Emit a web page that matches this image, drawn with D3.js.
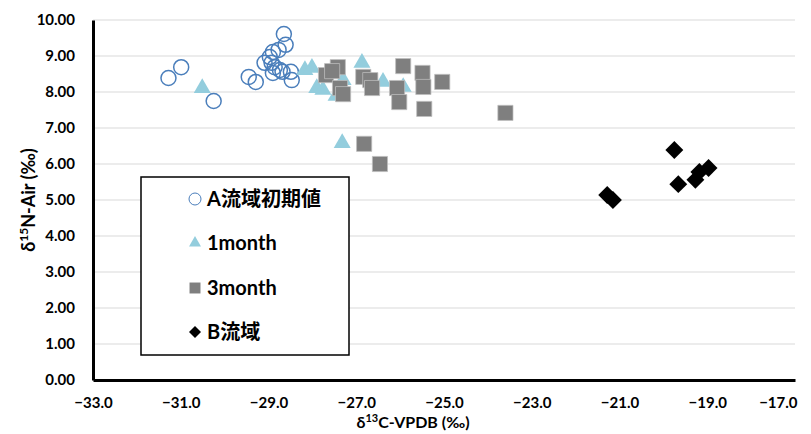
<!DOCTYPE html>
<html lang="ja">
<head>
  <meta charset="UTF-8">
  <title>δ13C vs δ15N</title>
  <script src="https://cdn.jsdelivr.net/npm/d3@7"></script>
  <style>
    body { margin: 0; background: #fff; }
    svg text { font-family: Lato, "Noto Sans CJK JP", sans-serif; font-weight: bold; fill: #000; }
  </style>
</head>
<body>
  <div id="chart"></div>
  <script>
    // series names
    const seriesNames = ["A流域初期値", "1month", "3month", "B流域"];

    // A流域初期値 (δ13C, δ15N)
    const seriesA = [
      [-31.28, 8.39], [-30.99, 8.69], [-30.25, 7.75], [-29.45, 8.42], [-29.29, 8.28],
      [-28.65, 9.61], [-28.61, 9.31], [-28.77, 9.17], [-28.90, 9.11], [-28.97, 8.97],
      [-29.09, 8.81], [-28.93, 8.81], [-28.86, 8.69], [-28.74, 8.61], [-28.90, 8.53],
      [-28.68, 8.56], [-28.49, 8.56], [-28.47, 8.33]
    ];

    // 1month
    const series1m = [
      [-30.51, 8.11], [-28.17, 8.61], [-28.01, 8.67], [-27.90, 8.11], [-27.76, 8.06],
      [-27.46, 7.89], [-27.30, 8.33], [-26.87, 8.81], [-26.39, 8.28], [-25.93, 8.14],
      [-27.32, 6.58]
    ];

    // 3month
    const series3m = [
      [-27.42, 8.69], [-27.69, 8.47], [-27.55, 8.58], [-27.37, 8.11], [-27.30, 7.94],
      [-26.84, 8.42], [-26.68, 8.33], [-26.64, 8.11], [-25.93, 8.72], [-26.07, 8.11],
      [-26.02, 7.72], [-25.49, 8.53], [-25.47, 8.14], [-25.45, 7.53], [-25.04, 8.28],
      [-23.60, 7.42], [-26.82, 6.56], [-26.46, 6.00]
    ];

    // B流域
    const seriesB = [
      [-21.28, 5.14], [-21.15, 5.00], [-19.75, 6.39], [-19.66, 5.44], [-19.27, 5.56],
      [-19.18, 5.78], [-18.97, 5.89]
    ];

    const xTicks = [-33, -31, -29, -27, -25, -23, -21, -19, -17];
    const yTicks = [0, 1, 2, 3, 4, 5, 6, 7, 8, 9, 10];

    const width = 811, height = 434;
    const margin = { top: 20, right: 16, bottom: 54, left: 93 };

    const svg = d3.select("#chart").append("svg")
      .attr("width", width)
      .attr("height", height);

    const x = d3.scaleLinear().domain([-33, -17]).range([margin.left, width - margin.right]);
    const y = d3.scaleLinear().domain([0, 10]).range([height - margin.bottom, margin.top]);

    // gridlines
    svg.append("g")
      .selectAll("line")
      .data(yTicks.slice(1))
      .join("line")
      .attr("x1", x(-33)).attr("x2", x(-17))
      .attr("y1", d => y(d)).attr("y2", d => y(d))
      .attr("stroke", "#d9d9d9")
      .attr("stroke-width", 1);

    // y axis
    const yAxis = svg.append("g")
      .attr("transform", `translate(${margin.left},0)`)
      .call(d3.axisLeft(y).tickValues(yTicks).tickFormat(d3.format(".2f")).tickSize(0).tickPadding(18));
    yAxis.select(".domain").attr("stroke", "#000").attr("stroke-width", 3);
    yAxis.selectAll("text").style("font-size", "15px");

    // x axis
    const xAxis = svg.append("g")
      .attr("transform", `translate(0,${y(0)})`)
      .call(d3.axisBottom(x).tickValues(xTicks).tickFormat(d3.format(".1f")).tickSize(0).tickPadding(17));
    xAxis.select(".domain").attr("stroke", "#000").attr("stroke-width", 3);
    xAxis.selectAll("text").style("font-size", "15px");
    // keep the last label inside the chart, like Excel does
    xAxis.selectAll(".tick").filter(d => d === -17).select("text")
      .attr("text-anchor", "end").attr("x", 2);

    // axis titles
    const xTitle = svg.append("text")
      .attr("x", 413)
      .attr("y", 428)
      .attr("text-anchor", "middle")
      .style("font-size", "16px");
    xTitle.append("tspan").text("δ");
    xTitle.append("tspan").attr("dy", -6).style("font-size", "11px").text("13");
    xTitle.append("tspan").attr("dy", 6).text("C-VPDB (‰)");

    const yTitle = svg.append("text")
      .attr("transform", `translate(35,${(y(0) + y(10)) / 2}) rotate(-90)`)
      .attr("text-anchor", "middle")
      .style("font-size", "18px");
    yTitle.append("tspan").text("δ");
    yTitle.append("tspan").attr("dy", -7).style("font-size", "12px").text("15");
    yTitle.append("tspan").attr("dy", 7).text("N-Air (‰)");

    // markers
    const tri = d3.symbol().type(d3.symbolTriangle).size(125);
    const sq = d3.symbol().type(d3.symbolSquare).size(230);
    const dia = d3.symbol().type(d3.symbolSquare).size(160);

    svg.append("g").selectAll("circle")
      .data(seriesA)
      .join("circle")
      .attr("cx", d => x(d[0])).attr("cy", d => y(d[1]))
      .attr("r", 7.5)
      .attr("fill", "none")
      .attr("stroke", "#4a7ebb")
      .attr("stroke-width", 1.5);

    svg.append("g").selectAll("path")
      .data(series1m)
      .join("path")
      .attr("d", tri)
      .attr("transform", d => `translate(${x(d[0])},${y(d[1])})`)
      .attr("fill", "#93cddd");

    svg.append("g").selectAll("path")
      .data(series3m)
      .join("path")
      .attr("d", sq)
      .attr("transform", d => `translate(${x(d[0])},${y(d[1])})`)
      .attr("fill", "#7f7f7f")
      .attr("stroke", "#bfbfbf")
      .attr("stroke-width", 0.75);

    svg.append("g").selectAll("path")
      .data(seriesB)
      .join("path")
      .attr("d", dia)
      .attr("transform", d => `translate(${x(d[0])},${y(d[1])}) rotate(45)`)
      .attr("fill", "#000");

    // legend
    const legend = svg.append("g");
    legend.append("rect")
      .attr("x", 141).attr("y", 177)
      .attr("width", 208).attr("height", 178)
      .attr("fill", "#fff")
      .attr("stroke", "#000")
      .attr("stroke-width", 1.5);

    const rowY = [199, 243, 288, 332];
    const legendMarks = [
      g => g.append("circle").attr("r", 6).attr("fill", "none").attr("stroke", "#4a7ebb").attr("stroke-width", 1),
      g => g.append("path").attr("d", d3.symbol().type(d3.symbolTriangle).size(62)).attr("fill", "#93cddd"),
      g => g.append("path").attr("d", d3.symbol().type(d3.symbolSquare).size(120)).attr("fill", "#7f7f7f"),
      g => g.append("path").attr("d", d3.symbol().type(d3.symbolSquare).size(72)).attr("transform", "rotate(45)").attr("fill", "#000")
    ];

    seriesNames.forEach((name, i) => {
      const row = legend.append("g").attr("transform", `translate(0,${rowY[i]})`);
      legendMarks[i](row.append("g").attr("transform", "translate(195,0)"));
      row.append("text")
        .attr("x", 207)
        .attr("dy", "0.35em")
        .style("font-size", "20px")
        .text(name);
    });
  </script>
</body>
</html>
